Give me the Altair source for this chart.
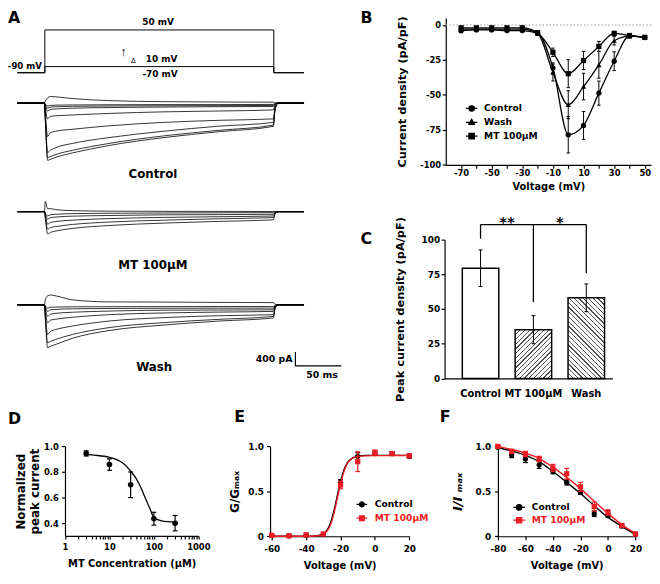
import math
import altair as alt
import pandas as pd

W, H = 652, 568
FONT = "DejaVu Sans"
RED = "#ec1c24"

# ================= DATA =================
# A: voltage protocol (ms, mV)
proto_time = [-30, 0, 0, 250, 250, 283]
proto_step_high = [-90, -90, 50, 50, -90, -90]
proto_step_low = [-90, -90, -70, -70, -90, -90]

# A: current traces (pA) sampled at trace_time (ms)
trace_time = [-30, -0.5, 0.5, 3, 6, 12, 30, 70, 130, 190, 249.5, 251.5, 255, 283]
control_traces = [
    [0, 0, 60, 150, 190, 180, 130, 70, 40, 30, 25, 5, 0, 0],
    [0, 0, -30, -85, -70, -60, -55, -50, -45, -45, -40, -10, 0, 0],
    [0, 0, -50, -145, -120, -105, -95, -85, -80, -75, -70, -20, 0, 0],
    [0, 0, -80, -230, -190, -170, -150, -130, -115, -105, -100, -25, 0, 0],
    [0, 0, -140, -460, -385, -370, -345, -300, -255, -230, -200, -50, 0, 0],
    [0, 0, -290, -970, -860, -815, -760, -660, -560, -500, -460, -115, 0, 0],
    [0, 0, -430, -1430, -1370, -1290, -1170, -1000, -815, -670, -560, -140, 0, 0],
    [0, 0, -480, -1575, -1550, -1490, -1370, -1170, -950, -790, -640, -160, 0, 0],
    [0, 0, -500, -1660, -1630, -1570, -1445, -1230, -1000, -830, -675, -170, 0, 0],
]
mt_traces = [
    [0, 0, 300, 85, 90, 60, 30, 15, 10, 8, 5, 0, 0, 0],
    [0, 0, -40, -125, -90, -75, -55, -45, -37, -32, -28, -8, 0, 0],
    [0, 0, -70, -215, -175, -155, -130, -110, -90, -85, -75, -20, 0, 0],
    [0, 0, -110, -360, -315, -285, -245, -200, -165, -145, -125, -30, 0, 0],
    [0, 0, -150, -505, -460, -430, -370, -300, -245, -205, -170, -45, 0, 0],
    [0, 0, -190, -645, -600, -560, -485, -400, -330, -280, -237, -60, 0, 0],
]
wash_traces = [
    [0, 0, 145, 260, 285, 260, 145, 85, 80, 70, 65, 15, 0, 0],
    [0, 0, -30, -95, -70, -63, -57, -54, -51, -49, -49, -12, 0, 0],
    [0, 0, -60, -190, -145, -130, -115, -105, -100, -97, -95, -25, 0, 0],
    [0, 0, -110, -335, -270, -245, -215, -180, -155, -150, -145, -35, 0, 0],
    [0, 0, -170, -525, -445, -415, -360, -285, -235, -210, -190, -50, 0, 0],
    [0, 0, -290, -860, -770, -715, -615, -470, -370, -315, -285, -70, 0, 0],
    [0, 0, -360, -1095, -1060, -1000, -860, -660, -515, -420, -335, -85, 0, 0],
    [0, 0, -400, -1240, -1200, -1145, -970, -745, -585, -470, -380, -95, 0, 0],
]

# B: I-V relationship
b_series = ["Control", "Wash", "MT 100μM"]
b_voltage = [-70, -60, -50, -40, -30, -20, -10, 0, 10, 20, 30, 40, 50]
b_control = [-4.2, -3.5, -3.5, -4.0, -4.0, -6.0, -30.6, -78.5, -71.8, -48.7, -25.9, -7.8, -9.0]
b_control_sem = [0.8, 0.8, 0.8, 0.8, 0.8, 1.2, 3.5, 13.0, 10.0, 8.6, 6.7, 1.0, 1.0]
b_wash = [-3.0, -3.0, -3.0, -3.0, -3.0, -6.0, -34.0, -57.0, -44.0, -28.5, -11.3, -8.0, -8.8]
b_wash_sem = [0.8, 0.8, 0.8, 0.8, 0.8, 1.2, 6.0, 10.0, 9.5, 9.5, 3.0, 1.0, 1.0]
b_mt = [-2.0, -2.0, -2.0, -2.0, -2.0, -5.5, -19.5, -34.8, -25.4, -15.3, -6.0, -7.5, -8.8]
b_mt_sem = [0.8, 0.8, 0.8, 0.8, 0.8, 1.0, 3.0, 10.0, 6.5, 3.5, 1.5, 1.0, 1.0]

# C: peak current density
c_groups = ["Control", "MT 100μM", "Wash"]
c_mean = [79.4, 35.1, 58.1]
c_sem = [13.2, 10.1, 10.0]
c_bracket_top = 110.9
c_leg_ends = [100.7, 55.0, 75.8]
c_stars = ["**", "*"]

# D: concentration-response
d_conc = [3, 10, 30, 100, 300]
d_mean = [0.945, 0.858, 0.70, 0.435, 0.40]
d_sem = [0.02, 0.045, 0.10, 0.05, 0.06]
d_fit_conc = [3, 5, 10, 15, 20, 30, 40, 50, 60, 70, 80, 100, 150, 200, 300]
d_fit = [0.935, 0.93, 0.915, 0.895, 0.87, 0.807, 0.748, 0.684, 0.62, 0.565, 0.52, 0.445, 0.418, 0.412, 0.41]

# E: activation
ef_series = ["Control", "MT 100μM"]
e_voltage = [-60, -50, -40, -30, -20, -10, 0, 10, 20]
e_control = [0.01, 0.005, 0.01, 0.02, 0.60, 0.89, 0.92, 0.92, 0.89]
e_control_sem = [0.01, 0.01, 0.01, 0.01, 0.03, 0.04, 0.02, 0.02, 0.02]
e_mt = [0.01, 0.005, 0.015, 0.025, 0.57, 0.83, 0.93, 0.92, 0.895]
e_mt_sem = [0.01, 0.01, 0.02, 0.01, 0.04, 0.11, 0.03, 0.02, 0.02]
e_fit_v = [-61, -40, -35, -32, -30, -28, -26, -24, -22, -20, -18, -16, -14, -12, -10, -5, 0, 10, 20]
e_fit_control = [0.0, 0.0, 0.004, 0.012, 0.028, 0.065, 0.14, 0.27, 0.44, 0.61, 0.74, 0.82, 0.86, 0.88, 0.89, 0.9, 0.9, 0.9, 0.9]
e_fit_mt = [0.0, 0.0, 0.003, 0.01, 0.024, 0.055, 0.12, 0.24, 0.41, 0.58, 0.72, 0.81, 0.855, 0.878, 0.888, 0.895, 0.897, 0.898, 0.898]

# F: steady-state inactivation
f_voltage = [-80, -70, -60, -50, -40, -30, -20, -10, 0, 10, 20]
f_control = [0.99, 0.905, 0.86, 0.795, 0.725, 0.60, 0.487, 0.25, 0.23, 0.115, 0.02]
f_control_sem = [0.01, 0.03, 0.04, 0.04, 0.03, 0.03, 0.02, 0.03, 0.02, 0.02, 0.01]
f_mt = [1.0, 0.945, 0.915, 0.86, 0.76, 0.695, 0.55, 0.33, 0.265, 0.12, 0.025]
f_mt_sem = [0.01, 0.02, 0.03, 0.03, 0.04, 0.06, 0.05, 0.05, 0.03, 0.02, 0.02]
f_fit_v = [-80, -70, -60, -50, -40, -30, -20, -10, 0, 10, 20]
f_fit_control = [0.985, 0.95, 0.9, 0.83, 0.72, 0.6, 0.475, 0.34, 0.21, 0.11, 0.02]
f_fit_mt = [1.0, 0.965, 0.925, 0.865, 0.77, 0.655, 0.53, 0.39, 0.255, 0.13, 0.03]


# ================= HELPERS =================
def lscale(domain, rng, **kw):
    return alt.Scale(domain=domain, range=rng, nice=False, zero=False, **kw)


def line_sym(kind, r=0.46):
    seg = "M-1,0H1"
    if kind == "circle":
        mk = f"M{-r},0A{r},{r},0,1,0,{r},0A{r},{r},0,1,0,{-r},0Z"
    elif kind == "square":
        mk = f"M{-r},{-r}H{r}V{r}H{-r}Z"
    else:
        mk = f"M0,{-r * 1.15}L{r * 1.05},{r * 0.75}H{-r * 1.05}Z"
    return seg + mk


def note(text, x, y, xs, ys, **kw):
    df = pd.DataFrame({"x": [x], "y": [y], "s": [text]})
    style = dict(font=FONT, fontWeight="bold", color="black")
    style.update(kw)
    return alt.Chart(df).mark_text(**style).encode(
        x=alt.X("x:Q", scale=xs, axis=None),
        y=alt.Y("y:Q", scale=ys, axis=None),
        text="s:N",
    )


def hatch(w, h, kind, period=3.4, lw=0.9, color="#555555"):
    L = (w + h) / math.sqrt(2)
    n = L / period
    stops = []
    i = 0
    while i / n < 1:
        a = i / n
        b = min((i + lw / period) / n, 1)
        c = min((i + 1) / n, 1)
        stops += [
            alt.GradientStop(color=color, offset=a),
            alt.GradientStop(color=color, offset=b),
            alt.GradientStop(color="white", offset=b),
            alt.GradientStop(color="white", offset=c),
        ]
        i += 1
    k = (w + h) / (w * w + h * h)
    if kind == "/":
        return alt.Gradient(gradient="linear", stops=stops, x1=0, y1=0, x2=w * k, y2=h * k)
    return alt.Gradient(gradient="linear", stops=stops, x1=0, y1=1, x2=w * k, y2=1 - h * k)


def tick_lbl(expr_cond):
    return f"{expr_cond} ? toString(datum.value) : ''"


# ================= PANEL A =================
A_X = lscale([-30, 283], [9.5, 299.7])
A_PY = lscale([-90, 50], [62, 18.7])
PA_PER_PX = 28.6

proto_rows = []
for name, vals in (("high", proto_step_high), ("low", proto_step_low)):
    for i, (t, v) in enumerate(zip(proto_time, vals)):
        proto_rows.append({"t": t, "mV": v, "step": name, "i": i})
proto_df = pd.DataFrame(proto_rows)

proto_line = alt.Chart(proto_df).mark_line(color="black", strokeWidth=1).encode(
    x=alt.X("t:Q", scale=A_X, axis=None),
    y=alt.Y("mV:Q", scale=A_PY, axis=None),
    detail="step:N",
    order="i:Q",
)
panel_proto = alt.layer(
    proto_line,
    note("50 mV", 123.7, 50, A_X, A_PY, fontSize=9, dy=-8, baseline="middle"),
    note("-90 mV", 0, -90, A_X, A_PY, fontSize=8.7, dy=-7, dx=-3, align="right", baseline="middle"),
    note("-70 mV", 125.8, -70, A_X, A_PY, fontSize=9, dy=8, baseline="middle"),
    note("10 mV", 127.5, -70, A_X, A_PY, fontSize=9, dy=-7.5, baseline="middle"),
    note("↑", 85.9, -70, A_X, A_PY, font="Liberation Sans", fontSize=13, fontWeight="normal", dy=-14.5,
         baseline="middle"),
    note("Δ", 96.7, -70, A_X, A_PY, fontSize=7, fontWeight="normal", dy=-5.5, baseline="middle"),
)


def trace_panel(traces, name, base, label, label_t, label_y, extra=()):
    rows = []
    for j, tr in enumerate(traces):
        for t, v in zip(trace_time, tr):
            rows.append({"t": t, "pA": v, "trace": f"{name}{j}"})
    df = pd.DataFrame(rows)
    ys = lscale([-2100, 300], [base + 2100 / PA_PER_PX, base - 300 / PA_PER_PX])
    lines = alt.Chart(df).mark_line(color="black", strokeWidth=0.8, interpolate="monotone").encode(
        x=alt.X("t:Q", scale=A_X, axis=None),
        y=alt.Y("pA:Q", scale=ys, axis=None),
        detail="trace:N",
    )
    layers = [lines, note(label, label_t, label_y, A_X, ys, fontSize=12, baseline="middle")]
    for fn in extra:
        layers.append(fn(ys))
    return alt.layer(*layers)


def scale_bar(ys):
    df = pd.DataFrame({"t": [273.6, 273.6, 323.6], "pA": [-1365, -1765, -1765], "i": [0, 1, 2]})
    return alt.Chart(df).mark_line(color="black", strokeWidth=1.2).encode(
        x=alt.X("t:Q", scale=A_X, axis=None), y=alt.Y("pA:Q", scale=ys, axis=None), order="i:Q")


def sb_label1(ys):
    return note("400 pA", 273.6, -1565, A_X, ys, fontSize=9.5, dx=-3, align="right", baseline="middle")


def sb_label2(ys):
    return note("50 ms", 302.7, -1765, A_X, ys, fontSize=9.5, dy=9, baseline="middle")


panel_ctrl = trace_panel(control_traces, "c", 92.7, "Control", 118, -2060)
panel_mt = trace_panel(mt_traces, "m", 202.7, "MT 100μM", 118, -1553)
panel_wash = trace_panel(wash_traces, "w", 297, "Wash", 119.4, -1802, extra=(scale_bar, sb_label1, sb_label2))

# ================= PANEL B =================
B_XS = lscale([-80, 54], [443.2, 650.9])
B_YS = lscale([-100, 5], [155.3, 6.6])
B_XA = alt.Axis(orient="bottom", offset=155.3 - H, values=b_voltage,
                labelExpr=tick_lbl("abs(datum.value) % 20 == 10"),
                labelFlush=False, labelOverlap=False, labelFontSize=8.5, labelPadding=0.5,
                title="Voltage (mV)", titleFontSize=10, titlePadding=4)
B_YA = alt.Axis(orient="left", offset=-443.2, values=[-100, -75, -50, -25, 0],
                labelExpr="toString(datum.value)", labelFontSize=8.5, labelPadding=1.7,
                title="Current density (pA/pF)", titleFontSize=11.5, titlePadding=12.7)

b_rows = []
for name, vals, sems in zip(b_series, [b_control, b_wash, b_mt], [b_control_sem, b_wash_sem, b_mt_sem]):
    for v, i, s in zip(b_voltage, vals, sems):
        b_rows.append({"V": v, "I": i, "lo": i - s, "hi": i + s, "series": name})
b_df = pd.DataFrame(b_rows)


def bx(f="V"):
    return alt.X(f"{f}:Q", scale=B_XS, axis=B_XA)


def by(f="I"):
    return alt.Y(f"{f}:Q", scale=B_YS, axis=B_YA)


b_zero = alt.Chart(pd.DataFrame({"V": [-80], "x2": [56], "I": [0]})).mark_rule(
    color="#999999", strokeDash=[1.5, 2], strokeWidth=1).encode(x=bx(), x2="x2:Q", y=by())
b_lines = alt.Chart(b_df).mark_line(color="black", strokeWidth=1.3, interpolate="monotone").encode(
    x=bx(), y=by(), detail="series:N")
b_err = alt.Chart(b_df).mark_rule(color="black", strokeWidth=1).encode(x=bx(), y=by("lo"), y2="hi:Q")
b_caps = [alt.Chart(b_df).mark_tick(orient="horizontal", size=3.5, thickness=1, color="black", opacity=1).encode(
    x=bx(), y=by(f)) for f in ("lo", "hi")]
b_pts = [alt.Chart(b_df).transform_filter(alt.datum.series == s).mark_point(
    filled=True, size=28, color="black", opacity=1, shape=shp).encode(x=bx(), y=by())
    for s, shp in zip(b_series, ["circle", "triangle-up", "square"])]
b_leg = alt.Chart(b_df).transform_filter("false").mark_point(
    filled=True, color="black", fill="black", stroke="black", strokeWidth=1.3).encode(
    x=bx(), y=by(),
    shape=alt.Shape("series:N",
                    scale=alt.Scale(domain=b_series, range=[line_sym("circle"), line_sym("triangle"), line_sym("square")]),
                    legend=alt.Legend(orient="none", legendX=462.4, legendY=91.2, title=None,
                                      labelFont=FONT, labelFontSize=9.3, labelFontWeight="bold", labelColor="black",
                                      symbolSize=137, symbolStrokeWidth=1.3, symbolOpacity=1, rowPadding=1,
                                      labelOffset=5.6, padding=0)))
panel_B = alt.layer(b_zero, b_lines, b_err, *b_caps, *b_pts, b_leg)

# ================= PANEL C =================
C_XS = alt.Scale(domain=c_groups, range=[442, 612], paddingInner=0.31, paddingOuter=0.243, align=0.69)
C_YS = lscale([0, 100], [371.5, 231])
C_PX = (371.5 - 231) / 100
C_BW = 170 / (3 - 0.31 + 2 * 0.243) * 0.69
C_XA = alt.Axis(orient="bottom", offset=371.5 - H, ticks=False, tickSize=0, title=None, labelAngle=0,
                labelFontSize=10, labelPadding=9.9)
C_YA = alt.Axis(orient="left", offset=-442, values=[0, 25, 50, 75, 100], labelFontSize=9, labelPadding=1.5,
                title="Peak current density (pA/pF)", titleFontSize=11.5, titlePadding=16)


def cx(f="group"):
    return alt.X(f"{f}:N", scale=C_XS, axis=C_XA)


def cy(f="mean"):
    return alt.Y(f"{f}:Q", scale=C_YS, axis=C_YA)


c_df = pd.DataFrame({"group": c_groups, "mean": c_mean,
                     "lo": [m - s for m, s in zip(c_mean, c_sem)],
                     "hi": [m + s for m, s in zip(c_mean, c_sem)],
                     "zero": [0] * 3})
fills = ["white",
         hatch(C_BW, c_mean[1] * C_PX, "/"),
         hatch(C_BW, c_mean[2] * C_PX, "\\")]
c_bars = [alt.Chart(c_df).transform_filter(alt.datum.group == g).mark_bar(
    fill=fill, stroke="black", strokeWidth=1.5).encode(x=cx(), y=cy(), y2="zero:Q")
    for g, fill in zip(c_groups, fills)]
c_err = alt.Chart(c_df).mark_rule(color="black", strokeWidth=1).encode(x=cx(), y=cy("lo"), y2="hi:Q")
c_caps = [alt.Chart(c_df).mark_tick(orient="horizontal", size=4, thickness=1, color="black", opacity=1).encode(
    x=cx(), y=cy(f)) for f in ("lo", "hi")]
c_br = alt.Chart(pd.DataFrame({"group": [c_groups[0]], "b": [c_groups[2]], "mean": [c_bracket_top]})).mark_rule(
    color="black", strokeWidth=1.3).encode(x=cx(), x2="b:N", y=cy())
c_legs = alt.Chart(pd.DataFrame({"group": c_groups, "mean": [c_bracket_top] * 3, "end": c_leg_ends})).mark_rule(
    color="black", strokeWidth=1.3).encode(x=cx(), y=cy(), y2="end:Q")
c_txt = alt.Chart(pd.DataFrame({"group": c_groups[:2], "mean": [109.1, 109.1], "s": c_stars})).mark_text(
    font=FONT, fontWeight="bold", fontSize=15, dx=26.8, baseline="alphabetic", color="black").encode(
    x=cx(), y=cy(), text="s:N")
panel_C = alt.layer(*c_bars, c_err, *c_caps, c_br, c_legs, c_txt)

# ================= PANEL D =================
D_LEFT = 57.7
D_BOTTOM = 531
D_XS = alt.Scale(type="log", domain=[1, 1000], range=[D_LEFT, D_LEFT + 135], nice=False)
D_YS = lscale([0.3, 1.0], [D_BOTTOM, 440.3])
d_ticks = [m * 10 ** e for e in range(3) for m in range(1, 10)] + [1000]
D_XA = alt.Axis(orient="bottom", offset=D_BOTTOM - H, values=d_ticks,
                labelExpr=tick_lbl("indexof([1, 10, 100, 1000], datum.value) >= 0"),
                labelFlush=False, labelOverlap=False, labelFontSize=8.5, labelPadding=4, tickSize=3,
                title="MT Concentration (μM)", titleFontSize=10, titlePadding=7)
D_YA = alt.Axis(orient="left", offset=-D_LEFT, values=[0.4, 0.6, 0.8, 1.0], format=".1f",
                labelFontSize=8.5, labelPadding=3.2,
                title=["Normalized", "peak current"], titleFontSize=12, titlePadding=2.5)


def dx_(f="c"):
    return alt.X(f"{f}:Q", scale=D_XS, axis=D_XA)


def dy_(f="m"):
    return alt.Y(f"{f}:Q", scale=D_YS, axis=D_YA)


d_df = pd.DataFrame({"c": d_conc, "m": d_mean,
                     "lo": [m - s for m, s in zip(d_mean, d_sem)],
                     "hi": [m + s for m, s in zip(d_mean, d_sem)]})
d_fit_df = pd.DataFrame({"c": d_fit_conc, "m": d_fit})
d_line = alt.Chart(d_fit_df).mark_line(color="black", strokeWidth=1.3, interpolate="monotone").encode(
    x=dx_(), y=dy_())
d_err = alt.Chart(d_df).mark_rule(color="black", strokeWidth=1.2).encode(x=dx_(), y=dy_("lo"), y2="hi:Q")
d_caps = [alt.Chart(d_df).mark_tick(orient="horizontal", size=5, thickness=1.2, color="black", opacity=1).encode(
    x=dx_(), y=dy_(f)) for f in ("lo", "hi")]
d_pts = alt.Chart(d_df).mark_point(filled=True, size=32, color="black", opacity=1, shape="circle").encode(
    x=dx_(), y=dy_())
panel_D = alt.layer(d_line, d_err, *d_caps, d_pts)


# ================= PANELS E & F =================
def ef_panel(xs, ys, xa, ya, volts, vals_c, sem_c, vals_m, sem_m, fit_v, fit_c, fit_m, leg_x, leg_y,
             leg_size, leg_offset, leg_row):
    def ex(f="V"):
        return alt.X(f"{f}:Q", scale=xs, axis=xa)

    def ey(f="G"):
        return alt.Y(f"{f}:Q", scale=ys, axis=ya)

    layers = []
    all_rows = []
    for name, col, shp, vals, sems, fit in (
            (ef_series[0], "black", "circle", vals_c, sem_c, fit_c),
            (ef_series[1], RED, "square", vals_m, sem_m, fit_m)):
        df = pd.DataFrame({"V": volts, "G": vals,
                           "lo": [g - s for g, s in zip(vals, sems)],
                           "hi": [g + s for g, s in zip(vals, sems)],
                           "series": [name] * len(volts)})
        all_rows.append(df)
        fdf = pd.DataFrame({"V": fit_v, "G": fit})
        layers.append(alt.Chart(fdf).mark_line(color=col, strokeWidth=1.4, interpolate="monotone").encode(
            x=ex(), y=ey()))
        layers.append(alt.Chart(df).mark_rule(color=col, strokeWidth=1.2).encode(x=ex(), y=ey("lo"), y2="hi:Q"))
        for fld in ("lo", "hi"):
            layers.append(alt.Chart(df).mark_tick(orient="horizontal", size=5, thickness=1.2, opacity=1,
                                                  color=col).encode(x=ex(), y=ey(fld)))
        layers.append(alt.Chart(df).mark_point(filled=True, size=28, opacity=1, shape=shp, color=col).encode(
            x=ex(), y=ey()))
    leg = alt.Legend(orient="none", legendX=leg_x, legendY=leg_y, title=None,
                     labelFont=FONT, labelFontSize=9.3, labelFontWeight="bold",
                     labelColor=alt.ExprRef(expr=f"datum.value == '{ef_series[1]}' ? '{RED}' : 'black'"),
                     symbolSize=leg_size, symbolStrokeWidth=1.3, symbolOpacity=1,
                     rowPadding=leg_row, labelOffset=leg_offset, padding=0)
    cscale = alt.Scale(domain=ef_series, range=["black", RED])
    sym_scale = alt.Scale(domain=ef_series, range=[line_sym("circle"), line_sym("square", 0.44)])
    layers.append(alt.Chart(pd.concat(all_rows)).transform_filter("false").mark_point(
        filled=True, strokeWidth=1.3).encode(
        x=ex(), y=ey(),
        shape=alt.Shape("series:N", scale=sym_scale, legend=leg),
        fill=alt.Fill("series:N", scale=cscale, legend=leg),
        stroke=alt.Stroke("series:N", scale=cscale, legend=leg)))
    return alt.layer(*layers)


EF_YLBL = "datum.value == 0 ? '0' : format(datum.value, '.1f')"
EF_BOTTOM = 531.3
EF_TOP = 440.3

E_XS = lscale([-61, 20], [265.3, 406.3])
E_YS = lscale([0, 1], [EF_BOTTOM, EF_TOP])
E_XA = alt.Axis(orient="bottom", offset=EF_BOTTOM - H, values=[-60, -40, -20, 0, 20], labelExpr="toString(datum.value)",
                labelFlush=False, labelOverlap=False, labelFontSize=9, labelPadding=4.5,
                title="Voltage (mV)", titleFontSize=10, titlePadding=8)
E_YA = alt.Axis(orient="left", offset=-265.3, values=[0, 0.5, 1.0], labelExpr=EF_YLBL,
                labelFontSize=9, labelPadding=3.1, title="G/Gₘₐₓ", titleFontSize=12, titlePadding=6.8)
panel_E = ef_panel(E_XS, E_YS, E_XA, E_YA, e_voltage, e_control, e_control_sem, e_mt, e_mt_sem,
                   e_fit_v, e_fit_control, e_fit_mt, 352.3, 493, 114, 7, 2)

F_XS = lscale([-80, 20], [496, 635.3])
F_YS = lscale([0, 1], [EF_BOTTOM, EF_TOP])
F_XA = alt.Axis(orient="bottom", offset=EF_BOTTOM - H, values=[-80, -60, -40, -20, 0, 20], labelExpr="toString(datum.value)",
                labelFlush=False, labelOverlap=False, labelFontSize=9, labelPadding=4.5,
                title="Voltage (mV)", titleFontSize=10, titlePadding=8)
F_YA = alt.Axis(orient="left", offset=-496, values=[0, 0.5, 1.0], labelExpr=EF_YLBL,
                labelFontSize=9, labelPadding=3.8, title="I/I ₘₐₓ", titleFontSize=13, titleFontStyle="italic",
                titlePadding=10.8)
panel_F = ef_panel(F_XS, F_YS, F_XA, F_YA, f_voltage, f_control, f_control_sem, f_mt, f_mt_sem,
                   f_fit_v, f_fit_control, f_fit_mt, 510.5, 495, 144, 5.7, 0)


# ================= LETTERS =================
def letter(ch, x, y):
    return alt.Chart(pd.DataFrame({"s": [ch]})).mark_text(
        align="left", baseline="alphabetic", font=FONT, fontSize=16, fontWeight="bold", color="black").encode(
        x=alt.value(x), y=alt.value(y), text="s:N")


letters = [letter("A", 0, 12), letter("B", 357, 12), letter("C", 357, 235),
           letter("D", 0, 418), letter("E", 229, 416), letter("F", 437, 416)]

chart = alt.layer(
    panel_proto, panel_ctrl, panel_mt, panel_wash, panel_B, panel_C, panel_D, panel_E, panel_F, *letters
).resolve_scale(
    x="independent", y="independent", shape="independent", color="independent",
    fill="independent", stroke="independent"
).resolve_axis(x="independent", y="independent").resolve_legend(
    shape="independent", color="independent", fill="independent", stroke="independent"
).properties(
    width=W, height=H, padding=0, autosize=alt.AutoSizeParams(type="none")
).configure_view(stroke=None).configure_axis(
    domainColor="black", tickColor="black", labelColor="black", titleColor="black",
    labelFont=FONT, titleFont=FONT, labelFontWeight="bold", titleFontWeight="bold",
    domainWidth=1.2, tickWidth=1.2, tickSize=3.5, grid=False
)

chart.save("out.html", embed_options={"renderer": "svg", "actions": False})
